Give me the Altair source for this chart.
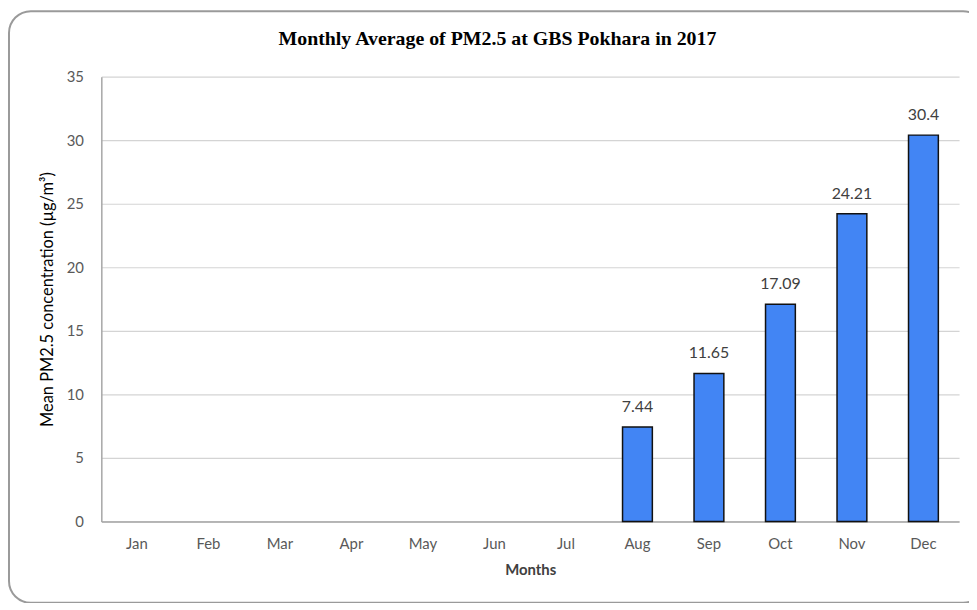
import altair as alt
import pandas as pd

months = ["Jan", "Feb", "Mar", "Apr", "May", "Jun", "Jul", "Aug", "Sep", "Oct", "Nov", "Dec"]
values = [None, None, None, None, None, None, None, 7.44, 11.65, 17.09, 24.21, 30.4]
labels = ["", "", "", "", "", "", "", "7.44", "11.65", "17.09", "24.21", "30.4"]
y_ticks = [0, 5, 10, 15, 20, 25, 30, 35]
title_text = "Monthly Average of PM2.5 at GBS Pokhara in 2017"

df = pd.DataFrame({"month": months, "value": values, "label": labels})

x_enc = alt.X(
    "month:N",
    sort=months,
    scale=alt.Scale(domain=months, paddingInner=0.583, paddingOuter=0.29),
    axis=alt.Axis(
        title="Months", labelAngle=0, ticks=False, labelPadding=15,
        labelFont="Lato", labelFontSize=15, labelColor="#595959",
        titleFont="Lato", titleFontSize=15, titleFontWeight="bold", titleColor="#404040",
        titlePadding=11, domainColor="#a6a6a6", domainWidth=1.5, grid=False,
    ),
)
y_enc = alt.Y(
    "value:Q",
    scale=alt.Scale(domain=[0, 35], nice=False),
    axis=alt.Axis(
        title="Mean PM2.5 concentration (µg/m³)", values=y_ticks, ticks=False,
        labelPadding=18, labelFont="Lato", labelFontSize=15, labelColor="#595959",
        titleFont="Lato", titleFontSize=16.5, titleFontWeight="normal", titleColor="#000000",
        titlePadding=11, domainColor="#a6a6a6", domainWidth=1.5,
        gridColor="#d4d4d4", gridWidth=1.2,
    ),
)

bars = alt.Chart(df).mark_bar(color="#4285f4", stroke="#111111", strokeWidth=1.5).encode(
    x=x_enc, y=y_enc
)

text = alt.Chart(df).transform_filter("datum.value != null").mark_text(
    baseline="alphabetic", dy=-15, font="Lato", fontSize=16, color="#404040"
).encode(x=alt.X("month:N", sort=months), y="value:Q", text="label:N")

border = alt.Chart(df).transform_filter("datum.month == 'Jan'").mark_rect(
    fill=None, stroke="#9a9a9a", strokeWidth=2, cornerRadius=22, clip=False
).encode(
    x=alt.value(-93), x2=alt.value(890), y=alt.value(-66), y2=alt.value(530)
)

title = alt.Chart(df).transform_filter("datum.month == 'Jan'").mark_text(
    font="Liberation Serif", fontSize=20, fontWeight="bold", color="#000000",
    align="center", baseline="middle"
).encode(
    x=alt.value(399), y=alt.value(-38), text=alt.value(title_text)
)

chart = alt.layer(border, bars, text, title).properties(
    width=864,
    height=448,
    padding={"left": 94, "top": 67, "right": 10, "bottom": 80},
    autosize=alt.AutoSizeParams(type="none"),
).configure_view(stroke=None)

chart.save("out.html", embed_options={"renderer": "svg", "actions": False})
